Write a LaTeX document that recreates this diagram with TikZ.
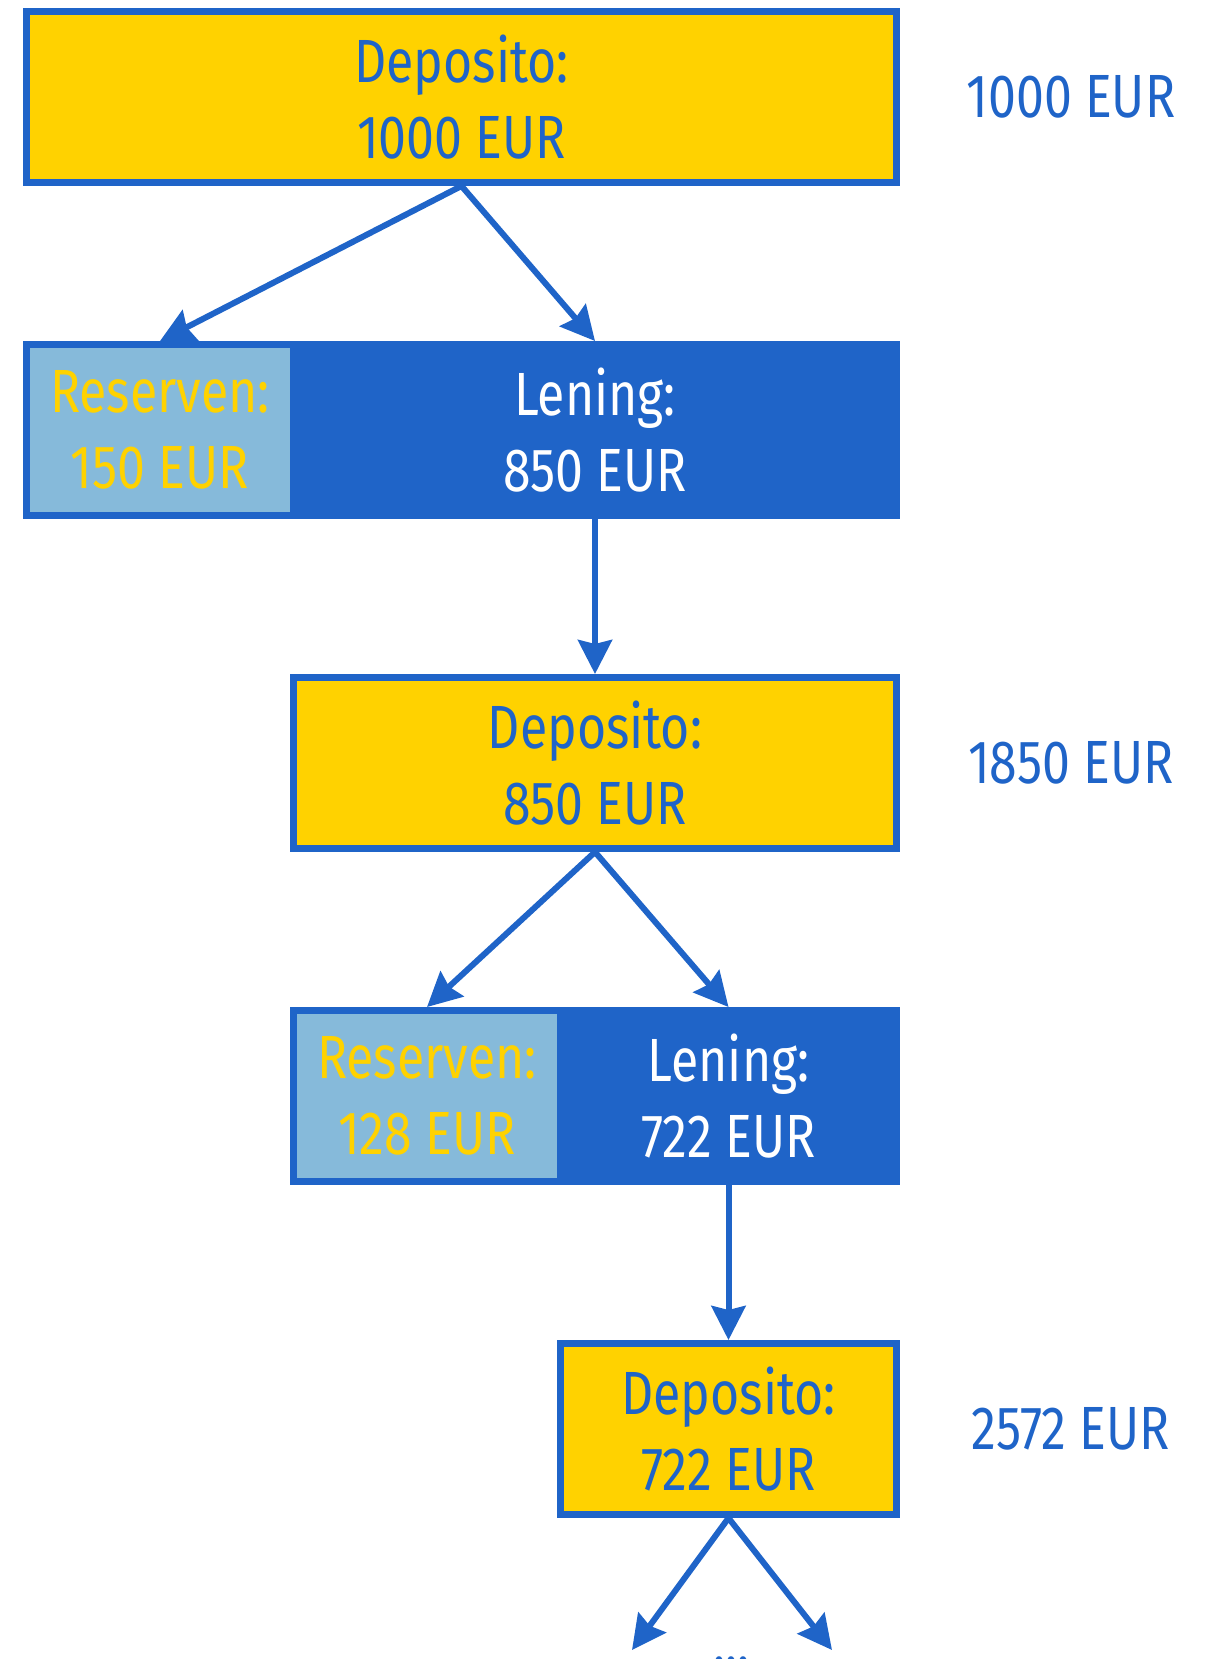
\documentclass[tikz,border=0pt]{standalone}
\usepackage{fontspec}
\setmainfont{Fira Sans}[FakeStretch=0.82]
\usetikzlibrary{arrows.meta}
\definecolor{eublue}{HTML}{1F64C8}
\definecolor{euyellow}{HTML}{FFD200}
\definecolor{eulight}{HTML}{86BADA}
\pgfdeclarelayer{bg}
\pgfsetlayers{bg,main}
\begin{document}
\begin{tikzpicture}[x=1pt,y=-1pt,
  box/.style={draw=eublue, line width=7pt, minimum height=171pt, inner sep=0pt, align=center, font=\fontsize{61}{76}\selectfont},
  depbox/.style={box, fill=euyellow, text=eublue},
  resbox/.style={box, fill=eulight, text=euyellow},
  lenbox/.style={box, fill=eublue, text=white},
  total/.style={text=eublue, inner sep=0pt, font=\fontsize{61}{76}\selectfont},
  arr/.style={draw=eublue, line width=6pt, -{Stealth[length=34pt,width=34pt,inset=4pt]}}
]
\useasboundingbox (0,0) rectangle (1216,1659);

\node[depbox, minimum width=870pt] (dep1) at (461.5,97) {Deposito:\\1000 EUR};
\node[resbox, minimum width=267pt] (res1) at (160,430) {Reserven:\\150 EUR};
\node[lenbox, minimum width=603pt] (len1) at (595,430) {Lening:\\850 EUR};
\node[depbox, minimum width=603pt] (dep2) at (595,763) {Deposito:\\850 EUR};
\node[resbox, minimum width=267pt] (res2) at (427,1096) {Reserven:\\128 EUR};
\node[lenbox, minimum width=336pt] (len2) at (728.5,1096) {Lening:\\722 EUR};
\node[depbox, minimum width=336pt] (dep3) at (728.5,1429) {Deposito:\\722 EUR};

\node[total] (t1) at (1071,97) {1000 EUR};
\node[total] (t2) at (1071,763) {1850 EUR};
\node[total] (t3) at (1071,1429) {2572 EUR};

\node[total, anchor=base] (dots) at (731,1664) {...};

\coordinate (e1) at (632,1650);
\coordinate (e2) at (832,1650);

\begin{pgfonlayer}{bg}
\draw[arr] (dep1.south) -- (res1.north);
\draw[arr] (dep1.south) -- (len1.north);
\draw[arr] (len1.south) -- (dep2.north);
\draw[arr] (dep2.south) -- (res2.north);
\draw[arr] (dep2.south) -- (len2.north);
\draw[arr] (len2.south) -- (dep3.north);
\draw[arr] (dep3.south) -- (e1);
\draw[arr] (dep3.south) -- (e2);
\end{pgfonlayer}
\end{tikzpicture}
\end{document}
